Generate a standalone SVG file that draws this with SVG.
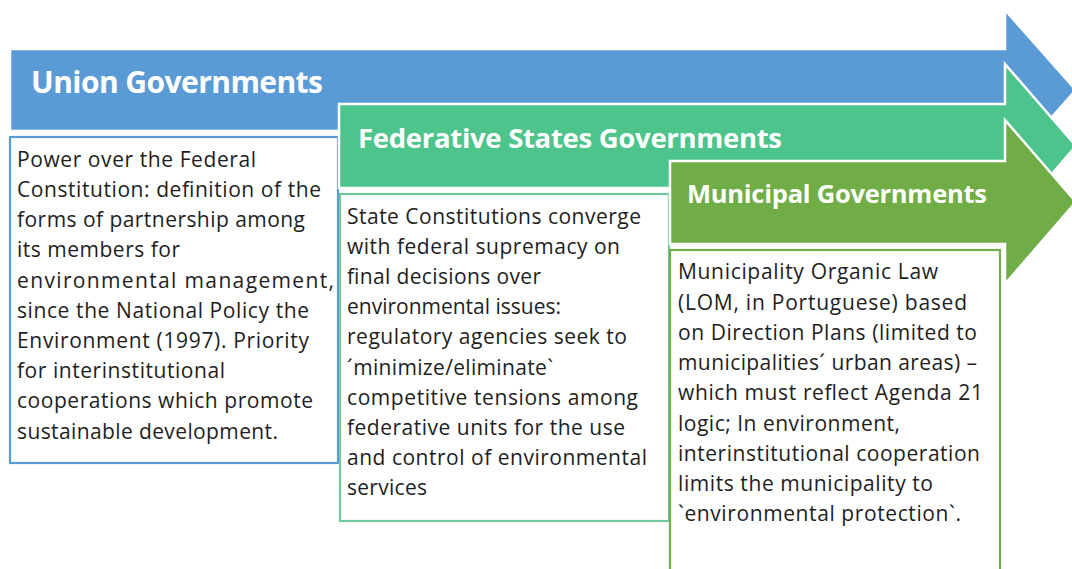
<svg xmlns="http://www.w3.org/2000/svg" width="1072" height="569" viewBox="0 0 1072 569">
  <style>
    .arrow { stroke: #ffffff; stroke-width: 2.5; stroke-linejoin: miter; }
    .box { fill: #ffffff; stroke-width: 2.2; }
    .head { font-family: "Open Sans", "Noto Sans", sans-serif; font-weight: 700; fill: #ffffff; }
    .body { font-family: "Open Sans", "Noto Sans", sans-serif; font-size: 21px; fill: #1e1e1e; }
  </style>
  <rect width="1072" height="569" fill="#ffffff"/>

  <!-- Tier 1: Union -->
  <g id="union">
    <polygon class="arrow" fill="#5b9bd5" points="10,49 1005,49 1005,10 1076,90 1005,170 1005,131 10,131"/>
    <text class="head" x="31" y="93" font-size="30" textLength="292">Union Governments</text>
    <rect class="box" stroke="#5b9bd5" x="10" y="137" width="328" height="326"/>
    <g class="body">
      <text x="17" y="167" textLength="239">Power over the Federal</text>
      <text x="17" y="197" textLength="304">Constitution: definition of the</text>
      <text x="17" y="227" textLength="288">forms of partnership among</text>
      <text x="17" y="257" textLength="163">its members for</text>
      <text x="17" y="288" textLength="317">environmental management,</text>
      <text x="17" y="318" textLength="292">since the National Policy the</text>
      <text x="17" y="348" textLength="292">Environment (1997). Priority</text>
      <text x="17" y="378" textLength="208">for interinstitutional</text>
      <text x="17" y="408" textLength="296">cooperations which promote</text>
      <text x="17" y="439" textLength="261">sustainable development.</text>
    </g>
  </g>

  <!-- Tier 2: Federative States -->
  <g id="states">
    <polygon class="arrow" fill="#4dc48c" points="339,104 1005,104 1005,64 1076,146 1005,228 1005,188 339,188"/>
    <text class="head" x="358" y="148" font-size="27.5" textLength="424">Federative States Governments</text>
    <rect class="box" stroke="#72c79c" x="340" y="194" width="329" height="327"/>
    <g class="body">
      <text x="347" y="224" textLength="294">State Constitutions converge</text>
      <text x="347" y="254" textLength="273">with federal supremacy on</text>
      <text x="347" y="284" textLength="194">final decisions over</text>
      <text x="347" y="314" textLength="214">environmental issues:</text>
      <text x="347" y="344" textLength="280">regulatory agencies seek to</text>
      <text x="347" y="375" textLength="206">´minimize/eliminate`</text>
      <text x="347" y="405" textLength="291">competitive tensions among</text>
      <text x="347" y="435" textLength="278">federative units for the use</text>
      <text x="347" y="465" textLength="300">and control of environmental</text>
      <text x="347" y="495" textLength="80">services</text>
    </g>
  </g>

  <!-- Tier 3: Municipal -->
  <g id="municipal">
    <polygon class="arrow" fill="#70ad47" points="670,161 1005,161 1005,120 1076,202 1005,284 1005,244 670,244"/>
    <text class="head" x="687" y="203" font-size="25.5" textLength="300">Municipal Governments</text>
    <rect class="box" stroke="#70ad47" x="670" y="250" width="330" height="340"/>
    <g class="body">
      <text x="678" y="279" textLength="260">Municipality Organic Law</text>
      <text x="678" y="310" textLength="289">(LOM, in Portuguese) based</text>
      <text x="678" y="340" textLength="299">on Direction Plans (limited to</text>
      <text x="678" y="370" textLength="299">municipalities´ urban areas) –</text>
      <text x="678" y="400" textLength="305">which must reflect Agenda 21</text>
      <text x="678" y="431" textLength="222">logic; In environment,</text>
      <text x="678" y="461" textLength="302">interinstitutional cooperation</text>
      <text x="678" y="491" textLength="255">limits the municipality to</text>
      <text x="678" y="521" textLength="283">`environmental protection`.</text>
    </g>
  </g>

  <!-- No connectors beyond the arrows themselves -->
  <g id="connectors"/>
</svg>
